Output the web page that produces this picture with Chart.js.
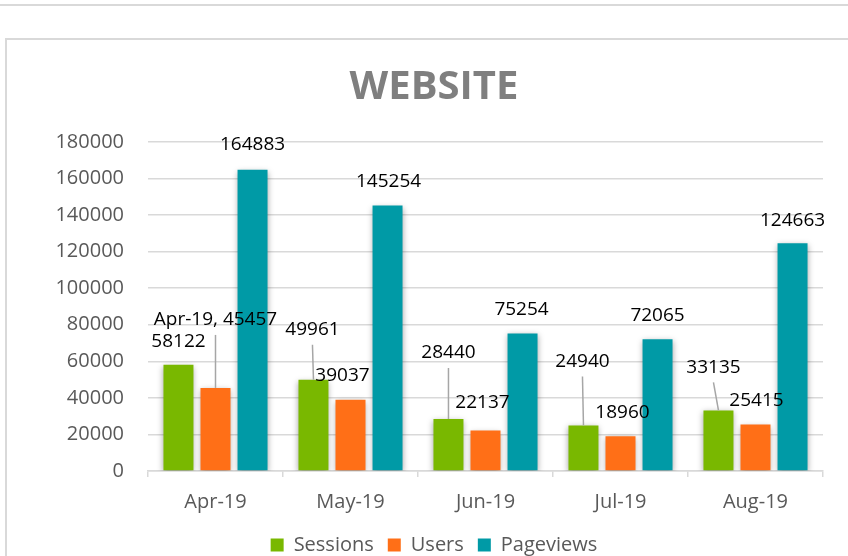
<!DOCTYPE html>
<html>
<head>
<meta charset="utf-8">
<script src="https://cdn.jsdelivr.net/npm/chart.js@4.4.0/dist/chart.umd.min.js"></script>
<style>
    html, body { margin: 0; padding: 0; background: #fff; overflow: hidden; width: 848px; height: 556px; }
    #topLine { position: absolute; left: 0; top: 4px; width: 848px; height: 2px; background: #d9d9d9; }
    #frame { position: absolute; left: 5px; top: 38px; width: 900px; height: 600px; border-top: 2px solid #d9d9d9; border-left: 2px solid #d9d9d9; }
    #websiteChart { position: absolute; left: 0; top: 0; }
</style>
</head>
<body>
<div id="topLine"></div>
<div id="frame"></div>
<canvas id="websiteChart" width="848" height="580"></canvas>
<script>
const months = ["Apr-19", "May-19", "Jun-19", "Jul-19", "Aug-19"];
const sessions = [58122, 49961, 28440, 24940, 33135];
const users = [45457, 39037, 22137, 18960, 25415];
const pageviews = [164883, 145254, 75254, 72065, 124663];
const yTicks = [0, 20000, 40000, 60000, 80000, 100000, 120000, 140000, 160000, 180000];

// where each data label sits relative to the top centre of its bar
const labelPlacement = [
    [{dx: 0, dy: -23}, {dx: -1, dy: -50, leader: true}, {dx: 0, dy: -66, leader: true}, {dx: -1, dy: -64, leader: true}, {dx: -5, dy: -43, leader: true}],
    [{dx: 0, dy: -68, leader: true, withCat: true}, {dx: -8, dy: -24}, {dx: -3, dy: -28}, {dx: 2, dy: -24}, {dx: 1, dy: -24}],
    [{dx: 0, dy: -25}, {dx: 1, dy: -24}, {dx: -1, dy: -24}, {dx: 0, dy: -24}, {dx: 0, dy: -23}]
];

Chart.defaults.font.family = "'Open Sans', sans-serif";

const barShadow = {
    id: "barShadow",
    beforeDatasetsDraw(chart) {
        const ctx = chart.ctx;
        ctx.save();
        ctx.shadowColor = "rgba(0, 0, 0, 0.35)";
        ctx.shadowBlur = 6;
        ctx.shadowOffsetX = 0;
        ctx.shadowOffsetY = 2;
    },
    afterDatasetsDraw(chart) {
        chart.ctx.restore();
    }
};

const barLabels = {
    id: "barLabels",
    afterDatasetsDraw(chart) {
        const ctx = chart.ctx;
        ctx.save();
        ctx.shadowColor = "transparent";
        ctx.font = "19px 'Open Sans'";
        ctx.textAlign = "center";
        ctx.textBaseline = "middle";
        chart.data.datasets.forEach((ds, di) => {
            chart.getDatasetMeta(di).data.forEach((bar, i) => {
                const p = labelPlacement[di][i];
                const x = bar.x + p.dx;
                const y = bar.y + p.dy;
                if (p.leader) {
                    ctx.strokeStyle = "#a6a6a6";
                    ctx.lineWidth = 1.5;
                    ctx.beginPath();
                    ctx.moveTo(x, y + 15);
                    ctx.lineTo(bar.x, bar.y);
                    ctx.stroke();
                }
                const text = p.withCat ? months[i] + ", " + ds.data[i] : String(ds.data[i]);
                ctx.fillStyle = "#000";
                ctx.fillText(text, x, y);
            });
        });
        ctx.restore();
    }
};

const tickFont = { family: "'Open Sans'", size: 20 };

new Chart(document.getElementById("websiteChart"), {
    type: "bar",
    data: {
        labels: months,
        datasets: [
            { label: "Sessions", data: sessions, backgroundColor: "#79b800" },
            { label: "Users", data: users, backgroundColor: "#ff6f17" },
            { label: "Pageviews", data: pageviews, backgroundColor: "#009aa6" }
        ]
    },
    options: {
        responsive: false,
        animation: false,
        datasets: {
            bar: { categoryPercentage: 0.823, barPercentage: 0.81, borderWidth: 0 }
        },
        layout: { padding: { left: 45, right: 25, top: 0, bottom: 15 } },
        plugins: {
            title: {
                display: true,
                text: "WEBSITE",
                color: "#7f7f7f",
                font: { family: "'Open Sans'", size: 40, weight: "bold" },
                padding: { top: 64, bottom: 30 }
            },
            legend: {
                position: "bottom",
                labels: { boxWidth: 13, boxHeight: 13, padding: 14, color: "#595959", font: tickFont }
            },
            tooltip: { enabled: false }
        },
        scales: {
            x: {
                grid: { offset: true, drawOnChartArea: false, drawTicks: true, tickLength: 6, color: "#d9d9d9", lineWidth: 1.5 },
                border: { color: "#d9d9d9", width: 1.5 },
                ticks: { color: "#595959", font: tickFont, padding: 13 },
                afterFit(scale) { scale.height = 50; }
            },
            y: {
                min: 0,
                max: 180000,
                border: { display: false },
                grid: { color: "#d9d9d9", lineWidth: 1.5, drawTicks: false },
                ticks: { color: "#595959", font: tickFont, padding: 24, callback: v => String(v) },
                afterFit(scale) { scale.width = 103; },
                afterBuildTicks(scale) { scale.ticks = yTicks.map(v => ({ value: v })); }
            }
        }
    },
    plugins: [barShadow, barLabels]
});
</script>
</body>
</html>
